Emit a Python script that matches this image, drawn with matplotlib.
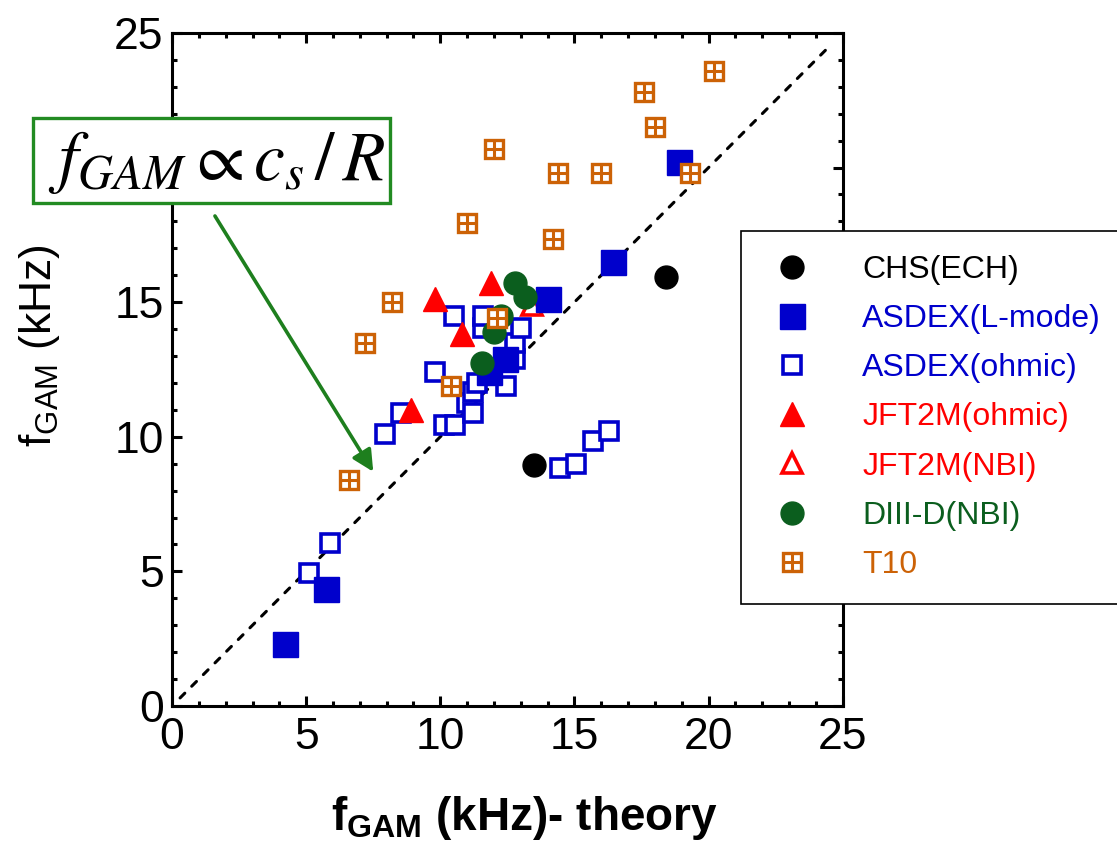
import matplotlib
matplotlib.use("Agg")
import matplotlib.pyplot as plt
from matplotlib.patches import Rectangle
from matplotlib.ticker import MultipleLocator

plt.rcParams['font.family'] = ['Liberation Sans', 'DejaVu Sans']
plt.rcParams['mathtext.fontset'] = 'custom'
plt.rcParams['mathtext.rm'] = 'Liberation Sans'
plt.rcParams['mathtext.bf'] = 'Liberation Sans:bold'
plt.rcParams['mathtext.it'] = 'Liberation Sans:italic'

# measured GAM frequency vs. theory (kHz)
chs_theory = [13.5, 18.4]
chs_meas = [8.95, 15.95]

asdex_l_theory = [4.2, 5.75, 11.8, 12.4, 14.0, 16.45, 18.9]
asdex_l_meas = [2.3, 4.35, 12.4, 12.9, 15.1, 16.5, 20.2]

asdex_oh_theory = [5.1, 5.9, 7.95, 8.55, 9.8, 10.15, 10.55, 11.0, 11.2, 11.2, 11.35,
                   12.45, 12.8, 12.8, 13.0, 11.6, 11.6, 10.5, 14.45, 15.05, 15.7, 16.3]
asdex_oh_meas = [4.95, 6.05, 10.1, 10.9, 12.4, 10.45, 10.45, 11.25, 10.9, 11.65, 12.0,
                 11.9, 12.9, 13.5, 14.05, 14.05, 14.5, 14.5, 8.85, 9.0, 9.85, 10.2]

jft_oh_theory = [8.9, 9.8, 10.8, 11.9]
jft_oh_meas = [11.0, 15.1, 13.8, 15.7]

jft_nbi_theory = [13.4]
jft_nbi_meas = [14.9]

diiid_theory = [11.55, 12.0, 12.25, 12.8, 13.15]
diiid_meas = [12.75, 13.9, 14.5, 15.7, 15.2]

t10_theory = [6.6, 7.2, 8.2, 10.4, 11.0, 12.0, 12.1, 14.2, 14.4, 16.0, 17.6, 18.0, 19.3, 20.2]
t10_meas = [8.4, 13.5, 15.0, 11.9, 17.95, 20.7, 14.4, 17.35, 19.8, 19.8, 22.8, 21.5, 19.8, 23.6]

BLUE = '#0000CC'
RED = '#FF0000'
DGREEN = '#0B5E1E'
ORANGE = '#CC6206'
BOXGREEN = '#228B22'

fig = plt.figure(figsize=(11.17, 8.43), dpi=100)
ax = fig.add_axes([0.154, 0.1625, 0.6005, 0.7985])

# f_meas = f_theory reference line
ax.plot([0.3, 24.5], [0.3, 24.5], color='black', lw=2.2,
        linestyle=(0, (2.2, 3.2)), dash_capstyle='round', zorder=2)

h_oh, = ax.plot(asdex_oh_theory, asdex_oh_meas, 's', ms=13, mfc='white', mec=BLUE,
                mew=2.6, ls='none', zorder=3)
h_l, = ax.plot(asdex_l_theory, asdex_l_meas, 's', ms=18, color=BLUE, ls='none', zorder=4)
h_chs, = ax.plot(chs_theory, chs_meas, 'o', ms=16.5, color='black', ls='none', zorder=4)
h_jnbi, = ax.plot(jft_nbi_theory, jft_nbi_meas, '^', ms=14, mfc='white', mec=RED,
                  mew=2.6, ls='none', zorder=3.5)
h_joh, = ax.plot(jft_oh_theory, jft_oh_meas, '^', ms=17, color=RED, ls='none', zorder=5)
h_d, = ax.plot(diiid_theory, diiid_meas, 'o', ms=16.5, color=DGREEN, ls='none', zorder=6)
h_t10a, = ax.plot(t10_theory, t10_meas, 's', ms=13.5, mfc='white', mec=ORANGE,
                  mew=2.4, ls='none', zorder=7)
h_t10b, = ax.plot(t10_theory, t10_meas, '+', ms=13.5, mec=ORANGE, mew=2.2,
                  ls='none', zorder=7)

ax.set_xlim(0, 25)
ax.set_ylim(0, 25)
ax.xaxis.set_major_locator(MultipleLocator(5))
ax.yaxis.set_major_locator(MultipleLocator(5))
ax.xaxis.set_minor_locator(MultipleLocator(1))
ax.yaxis.set_minor_locator(MultipleLocator(1))
ax.tick_params(which='both', direction='in', top=True, right=True, width=2.2,
               labelsize=32)
ax.tick_params(which='major', length=7)
ax.tick_params(which='minor', length=3.5)
ax.tick_params(axis='x', pad=8)
ax.tick_params(axis='y', pad=6)
for sp in ax.spines.values():
    sp.set_linewidth(2.2)

ax.set_xlabel(r'$\mathbf{f}_{\mathbf{GAM}}$ (kHz)- theory', fontsize=33,
              fontweight='bold')
ax.xaxis.set_label_coords(0.525, -0.13)
ax.set_ylabel(r'$\mathrm{f}_{\mathrm{GAM}}$ (kHz)', fontsize=32)
ax.yaxis.set_label_coords(-0.164, 0.535)

ax.annotate('', xy=(7.5, 8.7), xytext=(1.6, 18.2),
            arrowprops=dict(arrowstyle='-|>', color='#1E7F1E', lw=2.6,
                            mutation_scale=32, shrinkA=0, shrinkB=0),
            zorder=8)

handles = [h_chs, h_l, h_oh, h_joh, h_jnbi, h_d, (h_t10a, h_t10b)]
labels = ['CHS(ECH)', 'ASDEX(L-mode)', 'ASDEX(ohmic)', 'JFT2M(ohmic)',
          'JFT2M(NBI)', 'DIII-D(NBI)', 'T10']
text_colors = ['black', BLUE, BLUE, RED, RED, DGREEN, ORANGE]
leg = ax.legend(handles, labels, loc='upper left',
                bbox_to_anchor=(741 / 1117, (843 - 231) / 843),
                bbox_transform=fig.transFigure, borderaxespad=0,
                fontsize=23, frameon=True, fancybox=False, framealpha=1,
                edgecolor='black', borderpad=0.75, handlelength=1.7,
                handletextpad=1.34, labelspacing=0.6, numpoints=1)
leg.get_frame().set_linewidth(1.2)
leg.set_zorder(20)
for txt, c in zip(leg.get_texts(), text_colors):
    txt.set_color(c)

# scaling-law box, drawn over the left spine
fig.patches.append(Rectangle((33 / 1117, (843 - 203) / 843), 357 / 1117, 85 / 843,
                             transform=fig.transFigure, facecolor='white',
                             edgecolor=BOXGREEN, lw=2.4, zorder=10))
fig.text(217 / 1117, (843 - 162) / 843, r'$f_{GAM}\propto c_{s}\,/\,R$',
         fontsize=50, math_fontfamily='stix', ha='center', va='center', zorder=11)

fig.savefig('out.png', dpi=100, facecolor='white')
